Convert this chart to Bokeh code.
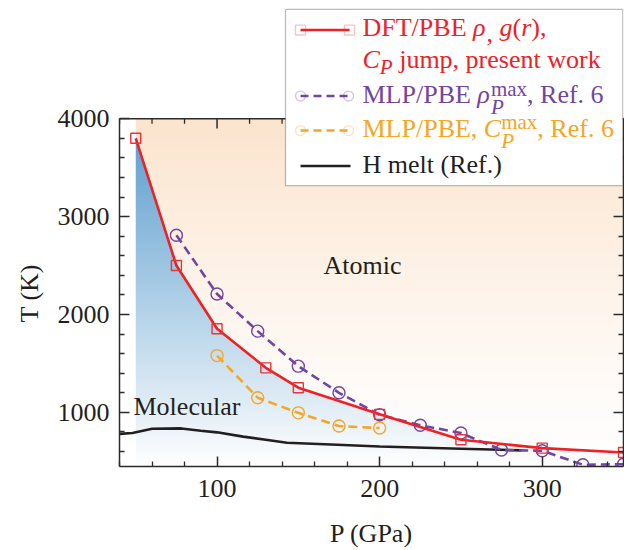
import math
import numpy as np
from bokeh.plotting import figure
from bokeh.models import (Range1d, LinearAxis, FixedTicker, Label, BoxAnnotation, Arrow, Span,
                          Title)
from bokeh.embed import file_html
from bokeh.resources import INLINE

# ---------------- data ----------------
dft_p = [50, 75, 100, 130, 150, 200, 250, 300, 350]
dft_t = [3800, 2500, 1855, 1455, 1252, 980, 720, 635, 590]

mlp_rho_p = [75, 100, 125, 150, 175, 200, 225, 250, 275, 300, 325, 350]
mlp_rho_t = [2810, 2210, 1830, 1472, 1200, 975, 868, 789, 615, 608, 465, 470]

mlp_cp_p = [100, 125, 150, 175, 200]
mlp_cp_t = [1580, 1150, 995, 860, 840]

melt_p = [40, 48, 60, 78, 90, 100, 116, 130, 143, 170, 200, 250, 287]
melt_t = [780, 790, 832, 836, 812, 796, 752, 720, 690, 672, 652, 628, 612]

x_ticks = [100, 200, 300]
x_minor = [40, 60, 80, 120, 140, 160, 180, 220, 240, 260, 280, 320, 340]
y_ticks = [1000, 2000, 3000, 4000]
y_minor = [600, 800, 1200, 1400, 1600, 1800, 2200, 2400, 2600, 2800,
           3200, 3400, 3600, 3800]

X_LO, X_HI = 40, 350
Y_LO, Y_HI = 447, 4000

# ---------------- style ----------------
FONT = "Liberation Serif"
FS = 26
FS_SMALL = 21
DESC = 0.216          # font descent (em) used to place text baselines
RED = "#EC2227"
PURPLE = "#7245A3"
ORANGE = "#F5A623"
BLACK = "#231F20"
AXC = "#2b2b2b"

W, H = 624, 550
BL, BR, BB = 119, 1, 77
FRAME_BOTTOM = H - BB          # canvas px of T = Y_LO
TOP_PX = 120                   # canvas px of T = Y_HI (visible plot top)
XS = (W - BL - BR) / (X_HI - X_LO)
YS = (FRAME_BOTTOM - TOP_PX) / (Y_HI - Y_LO)
Y_TOP = Y_LO + FRAME_BOTTOM / YS   # range reaches the canvas top so the legend is not clipped


def dx(px):
    return X_LO + (px - BL) / XS


def dy(py):
    return Y_LO + (FRAME_BOTTOM - py) / YS


p = figure(width=W, height=H, x_range=Range1d(X_LO, X_HI), y_range=Range1d(Y_LO, Y_TOP),
           output_backend="svg", toolbar_location=None,
           min_border_left=BL, min_border_right=BR, min_border_top=0, min_border_bottom=BB,
           background_fill_color="white", border_fill_color="white", outline_line_color=None)
p.xgrid.visible = False
p.ygrid.visible = False


def style_axis(ax, labels=True, standoff=8):
    ax.axis_line_color = AXC
    ax.axis_line_width = 1.5
    ax.major_tick_line_color = AXC
    ax.major_tick_line_width = 1.5
    ax.minor_tick_line_color = AXC
    ax.minor_tick_line_width = 1.3
    ax.major_tick_in = 10
    ax.major_tick_out = 0
    ax.minor_tick_in = 5
    ax.minor_tick_out = 0
    if labels:
        ax.major_label_text_font = FONT
        ax.major_label_text_font_size = f"{FS}px"
        ax.major_label_text_color = BLACK
        ax.major_label_standoff = standoff
        ax.axis_label_text_font = FONT
        ax.axis_label_text_font_size = f"{FS}px"
        ax.axis_label_text_font_style = "normal"
        ax.axis_label_text_color = BLACK
    else:
        ax.major_label_text_font_size = "0px"
        ax.major_label_text_color = None
        ax.major_label_standoff = 0


xax = p.xaxis[0]
yax = p.yaxis[0]
xax.ticker = FixedTicker(ticks=x_ticks, minor_ticks=x_minor)
yax.ticker = FixedTicker(ticks=y_ticks, minor_ticks=y_minor)
yax.bounds = (Y_LO, Y_HI)
style_axis(xax, True, 13)
style_axis(yax, True, 10)
xax.axis_label = "P (GPa)"
xax.axis_label_standoff = 19

# y-axis title, placed along the visible plot height (below the legend area)
p.add_layout(Title(text="T (K)", align="left", offset=144, standoff=21,
                   text_font=FONT, text_font_size=f"{FS}px", text_font_style="normal",
                   text_color=BLACK), "left")

right_ax = LinearAxis(ticker=FixedTicker(ticks=y_ticks, minor_ticks=y_minor),
                      bounds=(Y_LO, Y_HI))
style_axis(right_ax, False)
p.add_layout(right_ax, "right")

# top border of the plot at T = Y_HI, with inward ticks
p.add_layout(Span(location=Y_HI, dimension="width", line_color=AXC, line_width=1.5))
p.segment(x0=x_ticks, y0=[Y_HI] * len(x_ticks), x1=x_ticks,
          y1=[Y_HI - 10 / YS] * len(x_ticks), line_color=AXC, line_width=1.5)
p.segment(x0=x_minor, y0=[Y_HI] * len(x_minor), x1=x_minor,
          y1=[Y_HI - 5 / YS] * len(x_minor), line_color=AXC, line_width=1.3)

# ---------------- gradient shading (computed from the DFT boundary) ----------------
nx, ny = 620, 720
x0 = dft_p[0]
xv = np.linspace(x0, X_HI, nx)
yv = np.linspace(Y_LO, Y_HI, ny)
Y = np.repeat(yv[:, None], nx, axis=1)
bnd = np.interp(xv, dft_p, dft_t)[None, :]
below = Y < bnd
tb = np.clip((Y - Y_LO) / (dft_t[0] - Y_LO), 0, 1)[..., None]
tp = (np.clip((Y - Y_LO) / (Y_HI - Y_LO), 0, 1) ** 1.3)[..., None]
blue_top = np.array([96, 160, 208], dtype=float)
peach_top = np.array([252, 228, 205], dtype=float)
rgb = np.where(below[..., None], 255 + (blue_top - 255) * tb, 255 + (peach_top - 255) * tp)
img = np.empty((ny, nx), dtype=np.uint32)
view = img.view(dtype=np.uint8).reshape((ny, nx, 4))
view[..., 0:3] = np.clip(rgb, 0, 255).astype(np.uint8)
view[..., 3] = 255
p.image_rgba(image=[img], x=x0, y=Y_LO, dw=X_HI - x0, dh=Y_HI - Y_LO, level="image")

# ---------------- curves ----------------
p.line(melt_p, melt_t, line_color=BLACK, line_width=2.6)
p.line(mlp_cp_p, mlp_cp_t, line_color=ORANGE, line_width=2.6, line_dash="9 5")
p.scatter(mlp_cp_p, mlp_cp_t, marker="circle", size=12, fill_color=None,
          line_color=ORANGE, line_width=1.4)
p.line(mlp_rho_p, mlp_rho_t, line_color=PURPLE, line_width=2.6, line_dash="9 5")
p.scatter(mlp_rho_p, mlp_rho_t, marker="circle", size=12, fill_color=None,
          line_color=PURPLE, line_width=1.4)
p.line(dft_p, dft_t, line_color=RED, line_width=2.6)
p.scatter(dft_p, dft_t, marker="square", size=10, fill_color=None,
          line_color="#E8353B", line_width=1.4)

# ---------------- rich-text helpers ----------------
ROMAN = {' ': 250, 'D': 722, 'F': 556, 'T': 611, '/': 278, 'P': 556, 'B': 667, 'E': 611,
         ',': 250, '(': 333, ')': 333, '.': 250, 'j': 278, 'u': 500, 'm': 778, 'p': 500,
         'r': 333, 'e': 444, 's': 389, 'n': 500, 't': 278, 'w': 722, 'o': 500, 'k': 500,
         'M': 889, 'L': 611, 'a': 444, 'x': 500, 'H': 722, 'l': 278, 'R': 667, 'f': 333,
         '6': 500, 'C': 667, 'K': 722, 'G': 722}
ITALIC = {'ρ': 520, 'g': 500, 'r': 389, 'C': 667, 'P': 611, 'T': 556}


def tw(text, italic, size):
    table = ITALIC if italic else ROMAN
    return sum(table.get(c, 500) for c in text) * size / 1000.0


def lab(px, base, text, italic, size, color):
    """Place text with its alphabetic baseline at page-pixel (px, base)."""
    stripped = text.lstrip(" ")
    px += tw(text[:len(text) - len(stripped)], italic, size)
    p.add_layout(Label(x=dx(px), y=dy(base + DESC * size), text=stripped.rstrip(" "),
                       text_font=FONT, text_font_size=f"{size}px",
                       text_font_style="italic" if italic else "normal",
                       text_color=color, text_align="left", text_baseline="bottom"))


def rich_row(px, base, segs, color):
    x = px
    for seg in segs:
        if seg[0] == "stack":
            sub, sup = seg[1], seg[2]
            lab(x, base + 11, sub, True, FS_SMALL, color)
            lab(x, base - 8, sup, False, FS_SMALL, color)
            x += max(tw(sub, True, FS_SMALL), tw(sup, False, FS_SMALL))
        elif seg[0] == "sub":
            lab(x, base + 6, seg[1], True, FS_SMALL, color)
            x += tw(seg[1], True, FS_SMALL)
        else:
            text, italic = seg
            lab(x, base, text, italic, FS, color)
            x += tw(text, italic, FS)


# ---------------- region labels ----------------
lab(323, 278, "Atomic", False, FS, BLACK)
lab(133, 421, "Molecular", False, FS, BLACK)

# ---------------- legend ----------------
p.add_layout(BoxAnnotation(left=dx(285), right=dx(622.3), top=dy(9), bottom=dy(188),
                           fill_color="white", fill_alpha=1.0,
                           line_color=BLACK, line_width=1.3))


def sample_line(x1, x2, y, color, dash="solid"):
    p.add_layout(Arrow(end=None, x_start=dx(x1), y_start=dy(y), x_end=dx(x2), y_end=dy(y),
                       line_color=color, line_width=2.5, line_dash=dash))


def sample_marker(cx, cy, color, size, radius=0):
    h = size / 2.0
    p.add_layout(BoxAnnotation(left=dx(cx - h), right=dx(cx + h), top=dy(cy - h),
                               bottom=dy(cy + h), fill_color=None, fill_alpha=0,
                               line_color=color, line_width=1.4, border_radius=radius))


sample_line(300, 349, 30, RED)
sample_marker(300, 30, "#E8353B", 10)
sample_marker(349, 30, "#E8353B", 10)
sample_line(300, 348, 97, PURPLE, "8 5")
sample_marker(300, 97, PURPLE, 10, 5)
sample_marker(348, 97, PURPLE, 10, 5)
sample_line(300, 348, 132, ORANGE, "8 5")
sample_marker(300, 132, ORANGE, 10, 5)
sample_marker(348, 132, ORANGE, 10, 5)
sample_line(300, 350, 168, BLACK)

TX = 362
rich_row(TX, 37, [("DFT/PBE ", False), ("ρ", True), (", ", False), ("g", True),
                  ("(", False), ("r", True), ("),", False)], RED)
rich_row(TX, 69, [("C", True), ("sub", "P"), (" jump, present work", False)], RED)
rich_row(TX, 105, [("MLP/PBE ", False), ("ρ", True), ("stack", "P", "max"),
                   (", Ref. 6", False)], PURPLE)
rich_row(TX, 139, [("MLP/PBE, ", False), ("C", True), ("stack", "P", "max"),
                   (", Ref. 6", False)], ORANGE)
rich_row(TX, 176, [("H melt (Ref.)", False)], BLACK)

open("out.html", "w").write(file_html(p, INLINE))
